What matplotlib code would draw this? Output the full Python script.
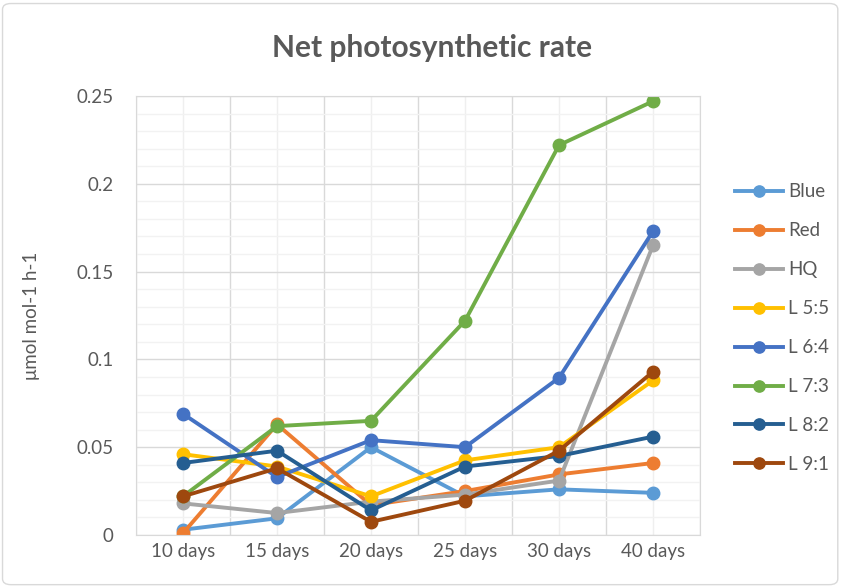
import matplotlib.pyplot as plt
from matplotlib.ticker import FixedLocator, MultipleLocator, FuncFormatter
from matplotlib.patches import FancyBboxPatch

plt.rcParams['font.family'] = ['Lato', 'DejaVu Sans']

days = ["10 days", "15 days", "20 days", "25 days", "30 days", "40 days"]

blue = [0.003, 0.0095, 0.050, 0.022, 0.026, 0.024]
red = [0.001, 0.063, 0.017, 0.025, 0.0345, 0.041]
hq = [0.018, 0.0125, 0.019, 0.023, 0.031, 0.165]
l55 = [0.046, 0.039, 0.022, 0.0425, 0.050, 0.088]
l64 = [0.069, 0.033, 0.054, 0.050, 0.0895, 0.173]
l73 = [0.022, 0.062, 0.065, 0.122, 0.222, 0.247]
l82 = [0.041, 0.048, 0.014, 0.039, 0.045, 0.056]
l91 = [0.022, 0.038, 0.0075, 0.0195, 0.048, 0.093]

series = [
    ("Blue", blue, "#5B9BD5"),
    ("Red", red, "#ED7D31"),
    ("HQ", hq, "#A5A5A5"),
    ("L 5:5", l55, "#FFC000"),
    ("L 6:4", l64, "#4472C4"),
    ("L 7:3", l73, "#70AD47"),
    ("L 8:2", l82, "#255E91"),
    ("L 9:1", l91, "#9E480E"),
]

fig = plt.figure(figsize=(8.42, 5.87), dpi=100)
ax = fig.add_axes([0.1615, 0.0886, 0.6699, 0.7479])

x = list(range(len(days)))
for name, vals, col in series:
    ax.plot(x, vals, color=col, lw=2.8, marker="o", ms=9, label=name)

ax.set_xlim(-0.5, len(days) - 0.5)
ax.set_ylim(0, 0.25)

ax.set_xticks(x)
ax.set_xticklabels(days)
ax.xaxis.set_minor_locator(FixedLocator([i - 0.5 for i in range(len(days) + 1)]))
ax.yaxis.set_major_locator(MultipleLocator(0.05))
ax.yaxis.set_minor_locator(MultipleLocator(0.01))
ax.yaxis.set_major_formatter(FuncFormatter(lambda v, p: "%g" % round(v, 2)))

ax.grid(which="minor", axis="x", color="#D9D9D9", lw=1)
ax.grid(which="major", axis="x", color="#EFEFEF", lw=1)
ax.grid(which="major", axis="y", color="#D9D9D9", lw=1)
ax.grid(which="minor", axis="y", color="#F2F2F2", lw=1)
ax.set_axisbelow(True)
ax.tick_params(which="both", length=0, labelsize=13.5, colors="#595959")
ax.tick_params(axis="y", pad=16)
ax.tick_params(axis="x", pad=6)
for s in ax.spines.values():
    s.set_color("#D9D9D9")

ax.set_ylabel("μmol mol-1 h-1", fontsize=13.5, color="#595959", labelpad=26)
fig.text(0.513, 0.918, "Net photosynthetic rate", ha="center", va="center",
         fontsize=21.5, fontweight="bold", color="#595959")

leg = ax.legend(loc="upper left", bbox_to_anchor=(1.049, 0.818), frameon=False,
                borderaxespad=0, fontsize=13.5, labelspacing=1.17,
                handlelength=2.56, handletextpad=0.27, markerscale=0.9)
for t in leg.get_texts():
    t.set_color("#595959")

fig.patches.append(FancyBboxPatch((0.003, 0.004), 0.992, 0.99,
                                  boxstyle="round,pad=0,rounding_size=0.01",
                                  transform=fig.transFigure, fill=False,
                                  edgecolor="#D9D9D9", lw=1))

fig.savefig("out.png", dpi=100)
